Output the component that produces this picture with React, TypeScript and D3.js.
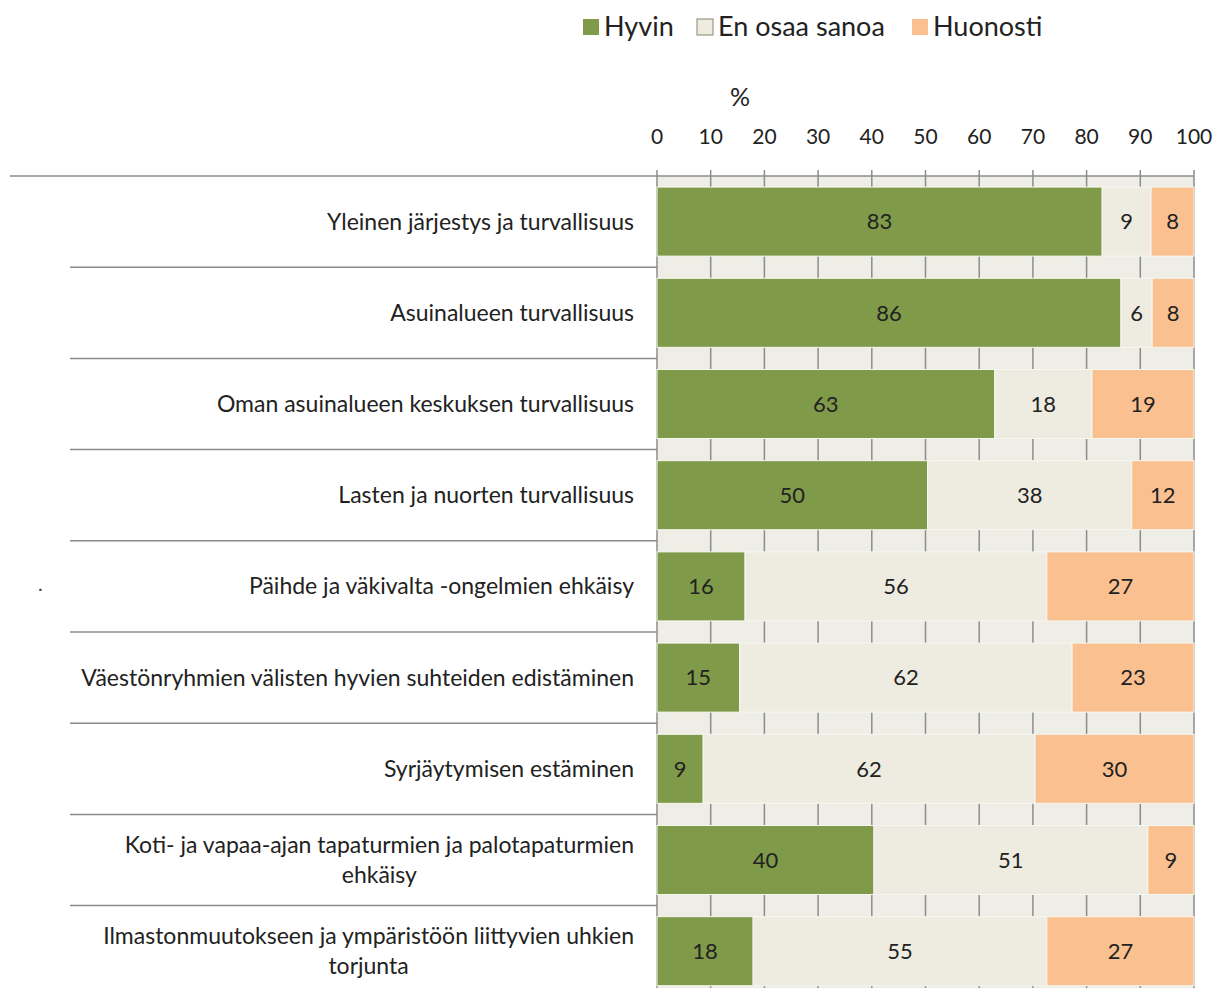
import React, { useEffect, useRef } from 'react';
import * as d3 from 'd3';

// categories (top to bottom), multi-line labels split with \n
const categories = [
  'Yleinen järjestys ja turvallisuus',
  'Asuinalueen turvallisuus',
  'Oman asuinalueen keskuksen turvallisuus',
  'Lasten ja nuorten turvallisuus',
  'Päihde ja väkivalta -ongelmien ehkäisy',
  'Väestönryhmien välisten hyvien suhteiden edistäminen',
  'Syrjäytymisen estäminen',
  'Koti- ja vapaa-ajan tapaturmien ja palotapaturmien\nehkäisy',
  'Ilmastonmuutokseen ja ympäristöön liittyvien uhkien\ntorjunta',
];

const seriesNames = ['Hyvin', 'En osaa sanoa', 'Huonosti'];
const hyvin = [82.9, 86.4, 62.9, 50.4, 16.4, 15.4, 8.6, 40.4, 17.9];
const enOsaa = [9.1, 5.8, 18.1, 38.0, 56.2, 61.9, 61.8, 51.0, 54.7];
const huonosti = [8.0, 7.8, 19.0, 11.6, 27.4, 22.7, 29.6, 8.6, 27.4];
const xTicks = [0, 10, 20, 30, 40, 50, 60, 70, 80, 90, 100];

const colors = ['#7f9a48', '#eeece1', '#fac090'];
const FONT = 'Lato, "Open Sans", sans-serif';

export default function App() {
  const svgRef = useRef<SVGSVGElement>(null);

  useEffect(() => {
    if (!svgRef.current) return;
    const svg = d3.select(svgRef.current);
    svg.selectAll('*').remove();

    const left = 657, right = 1194, top = 176;
    const step = 91.2;
    const bottom = top + step * categories.length;

    const x = d3.scaleLinear().domain([0, 100]).range([left, right]);
    const y = d3.scaleBand<number>()
      .domain(d3.range(categories.length))
      .range([top, bottom])
      .paddingInner(0.243)
      .paddingOuter(0.1215);

    const rows = categories.map((c, i) => ({ i, hyvin: hyvin[i], en: enOsaa[i], huono: huonosti[i] }));
    const stack = d3.stack<any>().keys(['hyvin', 'en', 'huono'])(rows);

    // plot background + grid
    svg.append('rect')
      .attr('x', left).attr('y', top)
      .attr('width', right - left).attr('height', bottom - top)
      .attr('fill', '#eeeee6');

    svg.append('g').selectAll('line')
      .data(xTicks)
      .enter().append('line')
      .attr('x1', d => x(d)).attr('x2', d => x(d))
      .attr('y1', top - 6).attr('y2', bottom)
      .attr('stroke', '#8c8c8c').attr('stroke-width', 1.5);

    svg.append('line')
      .attr('x1', left).attr('x2', right)
      .attr('y1', top).attr('y2', top)
      .attr('stroke', '#8c8c8c').attr('stroke-width', 1.5);

    // category separator lines on the left
    svg.append('g').selectAll('line')
      .data(d3.range(categories.length))
      .enter().append('line')
      .attr('x1', d => (d === 0 ? 10 : 70)).attr('x2', left)
      .attr('y1', d => top + d * step).attr('y2', d => top + d * step)
      .attr('stroke', '#8c8c8c').attr('stroke-width', 1.5);

    // bars
    const layer = svg.append('g').selectAll('g')
      .data(stack)
      .enter().append('g')
      .attr('fill', (d, k) => colors[k]);

    layer.selectAll('rect')
      .data(d => d as any[])
      .enter().append('rect')
      .attr('x', (d: any) => x(d[0]))
      .attr('y', (d: any) => y(d.data.i)!)
      .attr('width', (d: any) => x(d[1]) - x(d[0]))
      .attr('height', y.bandwidth())
      .attr('stroke', '#f7f7f2').attr('stroke-width', 1);

    layer.selectAll('text')
      .data(d => d as any[])
      .enter().append('text')
      .attr('x', (d: any) => (x(d[0]) + x(d[1])) / 2)
      .attr('y', (d: any) => y(d.data.i)! + y.bandwidth() / 2)
      .attr('dy', '0.35em')
      .attr('text-anchor', 'middle')
      .attr('fill', '#222')
      .attr('font-family', FONT)
      .attr('font-size', 22)
      .text((d: any) => d3.format('.0f')(d[1] - d[0]));

    // category labels
    const labels = svg.append('g').selectAll('text')
      .data(categories)
      .enter().append('text')
      .attr('font-family', FONT)
      .attr('font-size', 23)
      .attr('fill', '#222')
      .attr('text-anchor', 'end');

    labels.each(function (c, i) {
      const lines = c.split('\n');
      const cy = y(i)! + y.bandwidth() / 2;
      const t = d3.select(this);
      if (lines.length === 1) {
        t.attr('x', 634).attr('y', cy).attr('dy', '0.35em').text(c);
      } else {
        t.attr('text-anchor', 'middle');
        lines.forEach((ln, j) => {
          t.append('tspan')
            .attr('x', 634)
            .attr('y', cy + (j - (lines.length - 1) / 2) * 30)
            .attr('dy', '0.35em')
            .text(ln);
        });
      }
    });
    // center multi-line labels on their widest line, right-aligned at 634
    labels.each(function () {
      const t = d3.select(this);
      const spans = t.selectAll<SVGTSpanElement, unknown>('tspan');
      if (spans.empty()) return;
      const w = (this as SVGTextElement).getBBox().width;
      spans.attr('x', 634 - w / 2);
    });

    // stray dot
    svg.append('text')
      .attr('x', 38).attr('y', 591)
      .attr('font-family', FONT).attr('font-size', 20)
      .attr('fill', '#444')
      .text('.');

    // x tick labels
    svg.append('g').selectAll('text')
      .data(xTicks)
      .enter().append('text')
      .attr('x', d => x(d)).attr('y', 137)
      .attr('dy', '0.35em')
      .attr('text-anchor', 'middle')
      .attr('font-family', FONT).attr('font-size', 21)
      .attr('fill', '#222')
      .text(d => d);

    svg.append('text')
      .attr('x', 740).attr('y', 97)
      .attr('dy', '0.35em')
      .attr('text-anchor', 'middle')
      .attr('font-family', FONT).attr('font-size', 25)
      .attr('fill', '#222')
      .text('%');

    // legend
    const legendX = [583, 697, 912];
    const lg = svg.append('g').selectAll('g')
      .data(seriesNames)
      .enter().append('g')
      .attr('transform', (d, k) => `translate(${legendX[k]},19)`);
    lg.append('rect')
      .attr('width', 16).attr('height', 16)
      .attr('fill', (d, k) => colors[k])
      .attr('stroke', (d, k) => (k === 1 ? '#999a80' : 'none'))
      .attr('stroke-width', 1.2);
    lg.append('text')
      .attr('x', 21).attr('y', 8)
      .attr('dy', '0.35em')
      .attr('font-family', FONT).attr('font-size', 27)
      .attr('fill', '#222')
      .text(d => d);
  }, []);

  return (
    <svg ref={svgRef} width={1216} height={988}
      style={{ position: 'absolute', left: 0, top: 0, background: '#fff' }} />
  );
}
